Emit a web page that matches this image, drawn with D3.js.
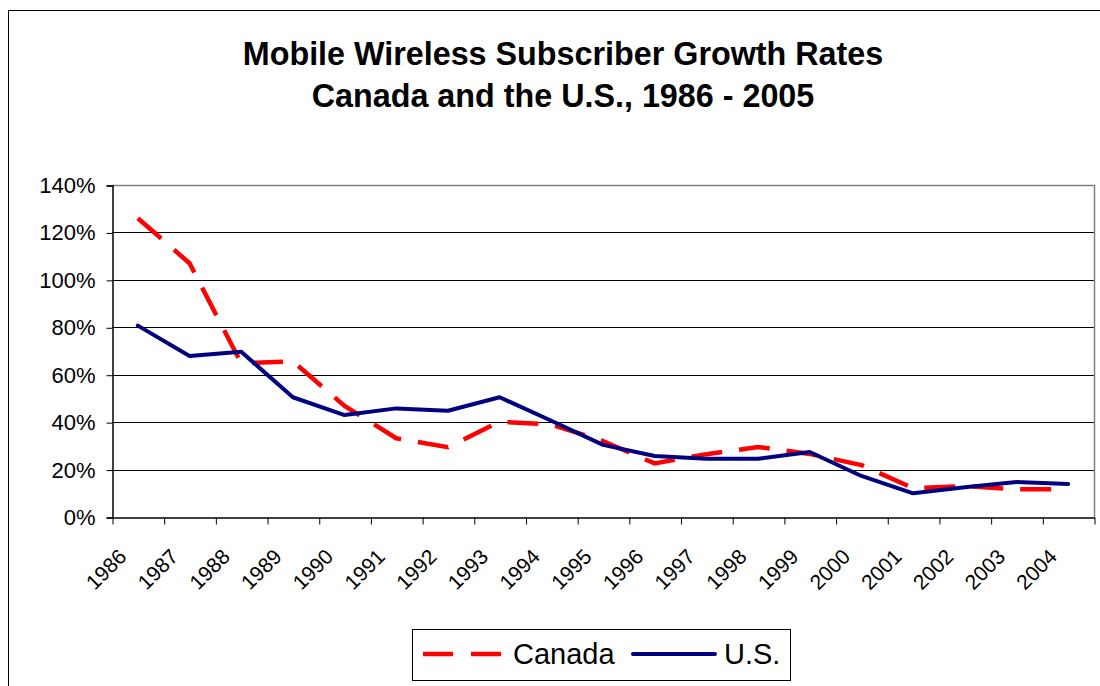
<!DOCTYPE html>
<html>
<head>
<meta charset="utf-8">
<script src="https://cdn.jsdelivr.net/npm/d3@7"></script>
<style>
  html, body { margin: 0; padding: 0; background: #fff; }
  svg { display: block; }
  text { font-family: "Liberation Sans", Arial, sans-serif; fill: #000; }
</style>
</head>
<body>
<svg id="chart" width="1100" height="686"></svg>
<script>
// Annual growth rate of mobile wireless subscribers (fraction of previous year)
const years = ["1986","1987","1988","1989","1990","1991","1992","1993","1994","1995",
               "1996","1997","1998","1999","2000","2001","2002","2003","2004"];
const canada = [1.26, 1.07, 0.648, 0.656, 0.468, 0.332, 0.294, 0.402, 0.390, 0.320,
                0.226, 0.265, 0.295, 0.266, 0.219, 0.122, 0.130, 0.117, 0.117];
const us     = [0.807, 0.679, 0.697, 0.505, 0.430, 0.458, 0.448, 0.505, 0.406, 0.304,
                0.257, 0.246, 0.246, 0.274, 0.173, 0.100, 0.125, 0.148, 0.139];
const yTicks = [0, 0.2, 0.4, 0.6, 0.8, 1.0, 1.2, 1.4];
const titleLines = ["Mobile Wireless Subscriber Growth Rates", "Canada and the U.S., 1986 - 2005"];
const seriesNames = ["Canada", "U.S."];

const svg = d3.select("#chart");
const plot = { left: 112, right: 1094, top: 185, bottom: 517 };

const x = d3.scaleBand().domain(years).range([plot.left, plot.right]).paddingInner(0).paddingOuter(0);
const y = d3.scaleLinear().domain([0, 1.4]).range([plot.bottom, plot.top]);
const xIdx = d3.scaleLinear().domain([0, years.length]).range([plot.left, plot.right]);

// outer chart frame
svg.append("rect")
  .attr("x", 8.5).attr("y", 10.5).attr("width", 1200).attr("height", 800)
  .attr("fill", "none").attr("stroke", "#000").attr("stroke-width", 1);

// title
svg.append("text")
  .attr("x", 563).attr("y", 65)
  .attr("text-anchor", "middle")
  .style("font-size", "32.3px").style("font-weight", "bold")
  .text(titleLines[0]);
svg.append("text")
  .attr("x", 563).attr("y", 107)
  .attr("text-anchor", "middle")
  .style("font-size", "32.3px").style("font-weight", "bold")
  .text(titleLines[1]);

// horizontal gridlines
svg.append("g")
  .selectAll("line")
  .data(yTicks.filter(d => d > 0 && d < 1.4))
  .join("line")
  .attr("x1", plot.left).attr("x2", plot.right)
  .attr("y1", d => Math.round(y(d)) + 0.5).attr("y2", d => Math.round(y(d)) + 0.5)
  .attr("stroke", "#000").attr("stroke-width", 1);

// plot area border (top and right)
svg.append("path")
  .attr("d", `M${plot.left},${plot.top + 0.5}H${plot.right + 0.5}V${plot.bottom}`)
  .attr("fill", "none").attr("stroke", "#808080").attr("stroke-width", 1.5);

// y axis
const yAxis = d3.axisLeft(y)
  .tickValues(yTicks)
  .tickFormat(d3.format(".0%"))
  .tickSize(6)
  .tickPadding(11);
const gy = svg.append("g")
  .attr("transform", `translate(${plot.left + 0.5},0.5)`)
  .call(yAxis);
gy.select(".domain").attr("stroke", "#000").attr("stroke-width", 1.5);
gy.selectAll(".tick line").attr("stroke", "#000");
gy.selectAll(".tick text")
  .style("font-size", "22px")
  .style("font-family", "'Liberation Sans', Arial, sans-serif");

// x axis: ticks between categories
const xAxis = d3.axisBottom(xIdx)
  .tickValues(d3.range(0, years.length + 1))
  .tickFormat("")
  .tickSize(7)
  .tickSizeOuter(0);
const gx = svg.append("g")
  .attr("transform", `translate(0.5,${plot.bottom + 0.5})`)
  .call(xAxis);
gx.select(".domain").attr("stroke", "#000").attr("stroke-width", 1.5);
gx.selectAll(".tick line").attr("stroke", "#000");

// rotated category labels
svg.append("g")
  .selectAll("text")
  .data(years)
  .join("text")
  .attr("text-anchor", "end")
  .style("font-size", "21px")
  .attr("transform", d => `translate(${x(d) + x.bandwidth() / 2 - 10},558) rotate(-45)`)
  .text(d => d);

const line = d3.line()
  .x((d, i) => x(years[i]) + x.bandwidth() / 2)
  .y(d => y(d));

// Canada series (dashed red)
svg.append("path")
  .datum(canada)
  .attr("d", line)
  .attr("fill", "none")
  .attr("stroke", "#ff0000")
  .attr("stroke-width", 4.5)
  .attr("stroke-dasharray", "31,17")
  .attr("stroke-linejoin", "miter");

// U.S. series (solid navy)
svg.append("path")
  .datum(us)
  .attr("d", line)
  .attr("fill", "none")
  .attr("stroke", "#000080")
  .attr("stroke-width", 4)
  .attr("stroke-linejoin", "round")
  .attr("stroke-linecap", "round");

// legend
const lg = svg.append("g");
lg.append("rect")
  .attr("x", 412.5).attr("y", 629.5).attr("width", 378).attr("height", 51)
  .attr("fill", "#fff").attr("stroke", "#000").attr("stroke-width", 1);
lg.append("line")
  .attr("x1", 423).attr("x2", 502).attr("y1", 654).attr("y2", 654)
  .attr("stroke", "#ff0000").attr("stroke-width", 4.5)
  .attr("stroke-dasharray", "30,18");
lg.append("text")
  .attr("x", 513).attr("y", 664)
  .style("font-size", "29px")
  .text(seriesNames[0]);
lg.append("line")
  .attr("x1", 633).attr("x2", 715).attr("y1", 654).attr("y2", 654)
  .attr("stroke", "#000080").attr("stroke-width", 4)
  .attr("stroke-linecap", "round");
lg.append("text")
  .attr("x", 724).attr("y", 664)
  .style("font-size", "29px")
  .text(seriesNames[1]);
</script>
</body>
</html>
